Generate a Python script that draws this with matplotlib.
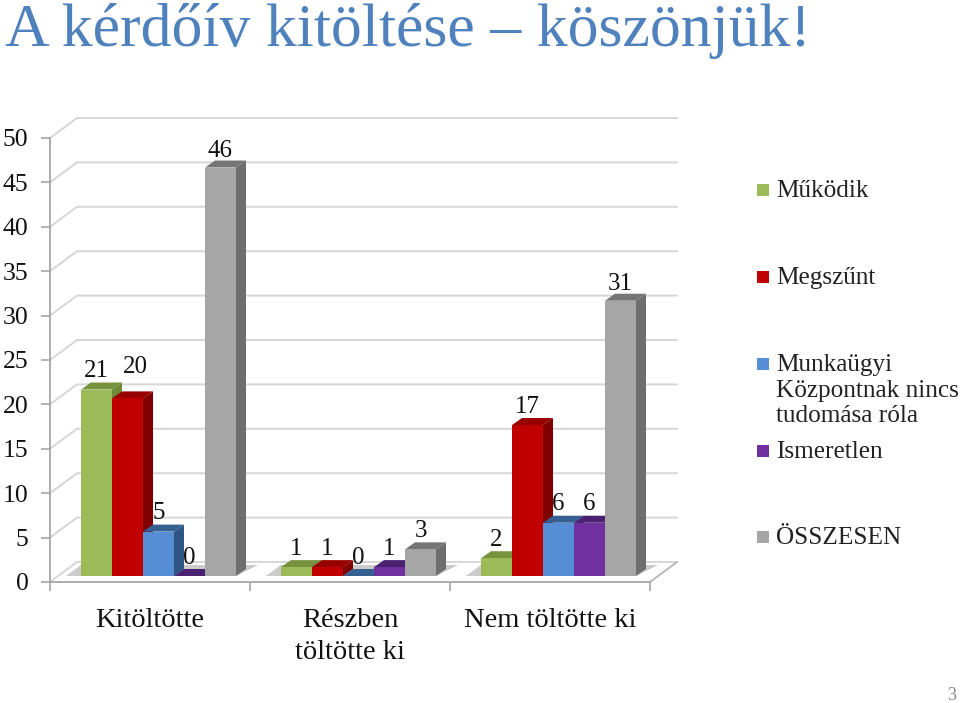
import matplotlib
matplotlib.use("Agg")
import matplotlib.pyplot as plt
from matplotlib.patches import Polygon, Rectangle

plt.rcParams['font.family'] = ['Liberation Serif', 'DejaVu Serif']

categories = ['Kitöltötte', 'Részben\ntöltötte ki', 'Nem töltötte ki']
series_names = ['Működik', 'Megszűnt', 'Munkaügyi\nKözpontnak nincs\ntudomása róla', 'Ismeretlen', 'ÖSSZESEN']
mukodik = [21, 1, 2]
megszunt = [20, 1, 17]
munkaugyi = [5, 0, 6]
ismeretlen = [0, 1, 6]
osszesen = [46, 3, 31]
series = [mukodik, megszunt, munkaugyi, ismeretlen, osszesen]
yticks = list(range(0, 51, 5))

front = ['#9BBB59', '#C00000', '#558ED5', '#7030A0', '#A6A6A6']
top = ['#76923C', '#980000', '#376092', '#4A2070', '#757575']
side = ['#6F8A35', '#800000', '#2F5585', '#3F1A60', '#6E6E6E']

W, H = 960, 703
fig = plt.figure(figsize=(W / 100, H / 100), dpi=100, facecolor='white')
ax = fig.add_axes([50 / W, 1 - 582 / H, 600 / W, 444 / H])
ax.set_xlim(0, 3)
ax.set_ylim(0, 50)
ax.patch.set_visible(False)

PX = 3 / 600
PY = 50 / 444
wall_dx, wall_dy = 27 * PX, 20 * PY
bar_dx, bar_dy = 10 * PX, 7 * PY
base = 6 * PY
bar_w = 31 * PX
first = 31 * PX

for s in ['top', 'right']:
    ax.spines[s].set_visible(False)
for s in ['left', 'bottom']:
    ax.spines[s].set_color('#A6A6A6')
    ax.spines[s].set_linewidth(1.3)

ax.set_yticks(yticks)
ax.set_xticks(range(4))
ax.set_xticklabels([])
ax.tick_params(axis='both', length=6.5, width=1.2, color='#A6A6A6')
ax.tick_params(axis='y', labelsize=18.5, pad=9, labelcolor='#111111')
ax.set_xticks([i + 0.5 for i in range(3)], minor=True)
ax.set_xticklabels(categories, minor=True, fontsize=20.5, color='#111111', linespacing=1.36)
ax.tick_params(axis='x', which='minor', length=0, pad=19)

# walls and floor
wall = '#D6D6D6'
for v in yticks:
    ax.plot([0, wall_dx, 3 + wall_dx], [v, v + wall_dy, v + wall_dy],
            color=wall, lw=1.4, clip_on=False, zorder=1)
ax.plot([3, 3 + wall_dx], [0, wall_dy], color='#B5B5B5', lw=1.3, clip_on=False, zorder=1)

# shadows on the floor
for i in range(3):
    x0 = i + first
    x1 = x0 + 5 * bar_w
    ax.add_patch(Polygon([(x0 - 15 * PX, base), (x1, base), (x1 + 22 * PX, base + 11 * PY),
                          (x0, base + 11 * PY)], closed=True, fc='#BEBEBE', ec='none',
                         alpha=0.8, zorder=1.5, clip_on=False))

# bars
z = 2
for i in range(3):
    for j, vals in enumerate(series):
        v = vals[i]
        x0 = i + first + j * bar_w
        x1 = x0 + bar_w
        y1 = base + v
        ax.add_patch(Polygon([(x1, base), (x1 + bar_dx, base + bar_dy), (x1 + bar_dx, y1 + bar_dy), (x1, y1)],
                             closed=True, fc=side[j], ec='none', zorder=z, clip_on=False))
        ax.add_patch(Polygon([(x0, y1), (x1, y1), (x1 + bar_dx, y1 + bar_dy), (x0 + bar_dx, y1 + bar_dy)],
                             closed=True, fc=top[j], ec='none', zorder=z, clip_on=False))
        ax.bar(x0, v, width=bar_w, bottom=base, align='edge', color=front[j], zorder=z + 0.1, clip_on=False)
        z += 0.2

# data labels
for i in range(3):
    for j, vals in enumerate(series):
        v = vals[i]
        dx, dy = 0, 0.3
        if i == 0 and j == 1:
            dx, dy = 5.8, 9.3
        elif j == 4 and i != 1:
            dy = -1
        ax.annotate(str(v), (i + first + (j + 0.5) * bar_w, base + v + bar_dy),
                    xytext=(dx, dy), textcoords='offset points', ha='center', va='bottom',
                    fontsize=18, color='#111111', zorder=50, annotation_clip=False)

# legend
legend_y = [190, 277, 364, 451, 537]
for name, col, y in zip(series_names, front, legend_y):
    fig.add_artist(Rectangle((757 / W, 1 - (y + 6) / H), 12 / W, 12 / H, fc=col, ec='none',
                             transform=fig.transFigure))
    fig.text(776 / W, 1 - (y - 10) / H, name, fontsize=18.2, color='#222222', va='top', ha='left',
             linespacing=1.22)

fig.text(5 / W, 1 - 46 / H, 'A kérdőív kitöltése – köszönjük!', fontsize=44.5, color='#4F81BD',
         va='baseline', ha='left')
fig.text(952 / W, 1 - 696 / H, '3', fontsize=13, color='#8A8A8A', va='center', ha='center')

fig.savefig('out.png', dpi=100)
